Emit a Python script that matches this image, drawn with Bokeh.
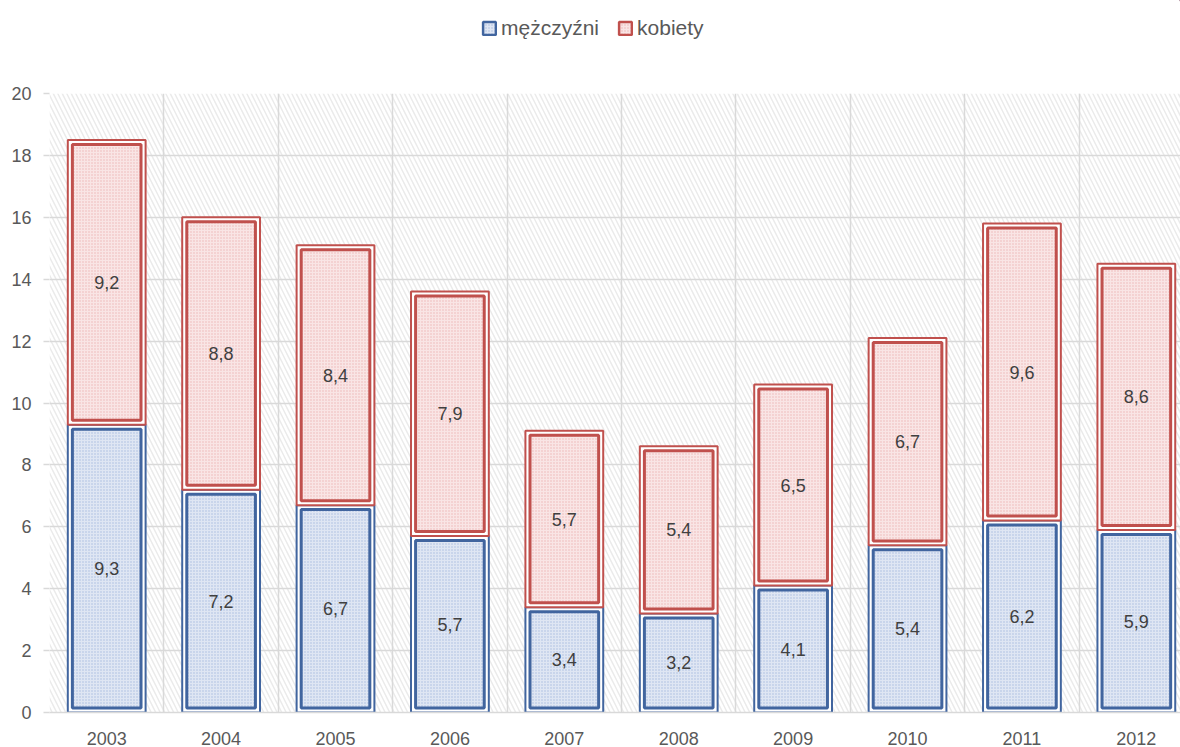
from bokeh.plotting import figure
from bokeh.layouts import column
from bokeh.models import (Range1d, FixedTicker, ColumnDataSource, BoxAnnotation,
                          Legend, LegendItem)
from bokeh.core.properties import value
from bokeh.embed import file_html
from bokeh.resources import INLINE

years = ["2003", "2004", "2005", "2006", "2007", "2008", "2009", "2010", "2011", "2012"]
men = [9.3, 7.2, 6.7, 5.7, 3.4, 3.2, 4.1, 5.4, 6.2, 5.9]
women = [9.2, 8.8, 8.4, 7.9, 5.7, 5.4, 6.5, 6.7, 9.6, 8.6]
series_names = ["mężczyźni", "kobiety"]
y_ticks = [0, 2, 4, 6, 8, 10, 12, 14, 16, 18, 20]

FONT = "Liberation Sans"
BLUE = "#41659f"
RED = "#c0504d"
GRID = "#d9d9d9"
BLUE_FILL, BLUE_HATCH = "#dfe6f3", "#a8bbdf"
RED_FILL, RED_HATCH = "#f9e5e5", "#eeb5b5"

W = 1180
LEG_H = 56
H = 747 - LEG_H

# ---------------- legend strip ----------------
lg = figure(width=W, height=LEG_H, output_backend="svg", toolbar_location=None,
            x_range=Range1d(0, 1), y_range=Range1d(0, 1),
            x_axis_location=None, y_axis_location=None,
            min_border=0, min_border_left=0, min_border_right=0,
            min_border_top=0, min_border_bottom=0)
lg.outline_line_color = None
lg.xgrid.visible = False
lg.ygrid.visible = False
lr_men = lg.vbar(x=[5], top=[5], bottom=[4], width=0.5, fill_color=BLUE_FILL,
                 line_color=BLUE, line_width=2.5, hatch_pattern="dot",
                 hatch_color=BLUE_HATCH, hatch_scale=3, hatch_weight=1)
lr_wom = lg.vbar(x=[5], top=[5], bottom=[4], width=0.5, fill_color=RED_FILL,
                 line_color=RED, line_width=2.5, hatch_pattern="dot",
                 hatch_color=RED_HATCH, hatch_scale=3, hatch_weight=1)
legend = Legend(items=[LegendItem(label=series_names[0], renderers=[lr_men]),
                       LegendItem(label=series_names[1], renderers=[lr_wom])],
                orientation="horizontal", location=(432, 16),
                background_fill_alpha=0, border_line_color=None,
                label_text_font=FONT, label_text_font_size="21px",
                label_text_color="#595959", glyph_width=16, glyph_height=16,
                spacing=18, label_standoff=4, padding=4, margin=0)
lg.add_layout(legend, "center")

# ---------------- main chart ----------------
p = figure(width=W, height=H, output_backend="svg", toolbar_location=None,
           x_range=Range1d(-0.5, 9.386), y_range=Range1d(0, 20),
           min_border_left=49, min_border_right=0, min_border_top=93 - LEG_H,
           min_border_bottom=35)
p.outline_line_color = None
p.background_fill_color = "white"

bg = BoxAnnotation(fill_color="white", fill_alpha=1, line_color=None,
                   hatch_pattern="left_diagonal_line", hatch_color="#ebebeb",
                   hatch_scale=9, hatch_weight=1.5, level="image")
p.add_layout(bg)

xi = list(range(len(years)))
p.xaxis.ticker = FixedTicker(ticks=xi)
p.xaxis.major_label_overrides = {i: y for i, y in enumerate(years)}
p.xaxis.axis_line_color = GRID
p.xaxis.axis_line_width = 1.5
p.xaxis.major_tick_line_color = None
p.xaxis.minor_tick_line_color = None
p.xaxis.major_label_standoff = 13
p.xaxis.major_label_text_font = FONT
p.xaxis.major_label_text_font_size = "18px"
p.xaxis.major_label_text_color = "#595959"

p.yaxis.ticker = FixedTicker(ticks=y_ticks)
p.yaxis.axis_line_color = None
p.yaxis.major_tick_line_color = GRID
p.yaxis.major_tick_line_width = 1.5
p.yaxis.major_tick_out = 6
p.yaxis.major_tick_in = 0
p.yaxis.minor_tick_line_color = None
p.yaxis.major_label_standoff = 12
p.yaxis.major_label_text_font = FONT
p.yaxis.major_label_text_font_size = "18px"
p.yaxis.major_label_text_color = "#595959"

p.ygrid.ticker = FixedTicker(ticks=y_ticks)
p.ygrid.grid_line_color = GRID
p.ygrid.grid_line_width = 1.5
p.xgrid.ticker = FixedTicker(ticks=[i - 0.5 for i in xi])
p.xgrid.grid_line_color = GRID
p.xgrid.grid_line_width = 1.5

BW = 0.68
DX = 0.08
DY = 0.145
men_bottom = [0.0] * len(men)
men_top = list(men)
wom_bottom = men_top
wom_top = [m + w for m, w in zip(men, women)]

def seg(bottoms, tops, color, fill, hatch):
    p.vbar(x=xi, bottom=bottoms, top=tops, width=BW,
           fill_color="white", line_color=color, line_width=2)
    p.vbar(x=xi, bottom=[b + DY for b in bottoms], top=[t - DY for t in tops],
           width=BW - DX, fill_color=fill, line_color=color, line_width=3,
           hatch_pattern="dot", hatch_color=hatch, hatch_scale=3, hatch_weight=1)

seg(men_bottom, men_top, BLUE, BLUE_FILL, BLUE_HATCH)
seg(wom_bottom, wom_top, RED, RED_FILL, RED_HATCH)

def fmt(v):
    return f"{v:.1f}".replace(".", ",")

lab_src = ColumnDataSource(dict(
    x=xi + xi,
    y=[m / 2 for m in men] + [m + w / 2 for m, w in zip(men, women)],
    t=[fmt(v) for v in men] + [fmt(v) for v in women]))
p.text(x="x", y="y", text="t", source=lab_src, text_align="center",
       text_baseline="middle", text_font=value(FONT), text_font_size="18px",
       text_color="#404040")

layout = column(lg, p, spacing=0)
open("out.html", "w").write(file_html(layout, INLINE))
